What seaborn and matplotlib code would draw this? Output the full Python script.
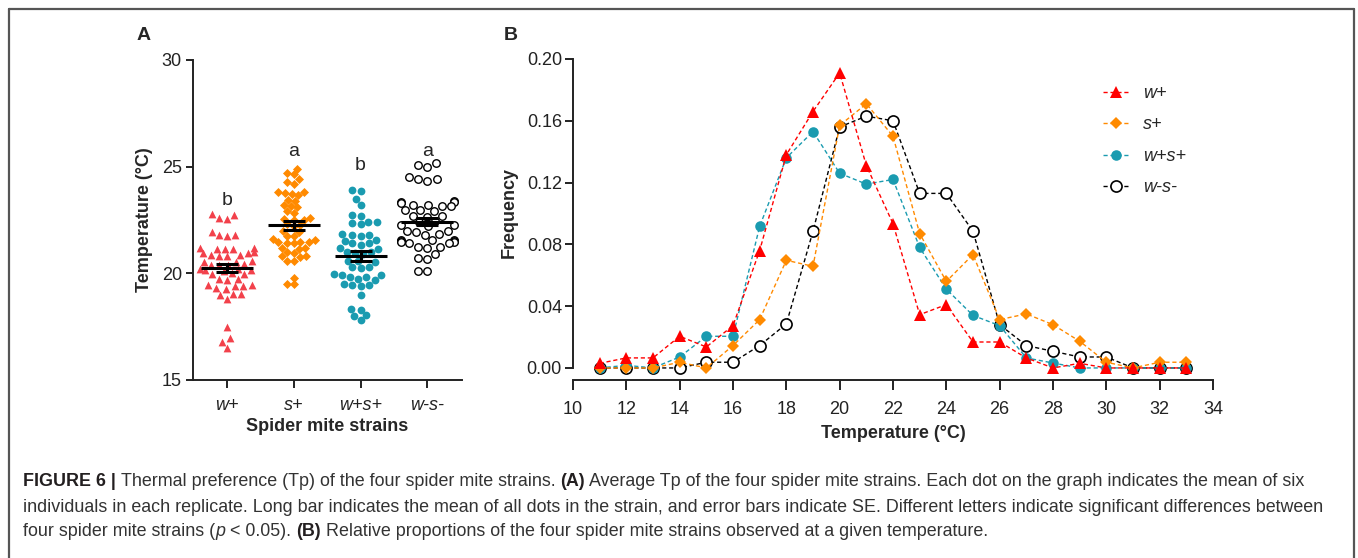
import numpy as np
import pandas as pd
import matplotlib
matplotlib.use('Agg')
import matplotlib.pyplot as plt
from matplotlib.lines import Line2D
import seaborn as sns

# ---- data ----
strains = ['w+', 's+', 'w+s+', 'w-s-']

tp_wplus = [22.8, 22.75, 22.6, 22.55, 21.95, 21.8, 21.8, 21.75,
            21.2, 21.2, 21.15, 21.15, 21.15, 21.0, 20.95, 20.95,
            20.85, 20.85, 20.8, 20.8, 20.6, 20.55, 20.55,
            20.45, 20.4, 20.4, 20.4, 20.2, 20.2, 20.15, 20.15, 20.1,
            20.0, 19.95, 19.95, 19.75, 19.75, 19.7,
            19.45, 19.45, 19.4, 19.4, 19.3, 19.25,
            19.05, 19.05, 19.0, 18.8, 17.5, 16.95, 16.8, 16.5]
tp_splus = [24.9, 24.7, 24.65, 24.4, 24.3, 24.2,
            23.8, 23.8, 23.75, 23.7, 23.65, 23.45, 23.4,
            23.2, 23.15, 23.1, 22.9, 22.85,
            22.6, 22.55, 22.5, 22.5, 22.3, 22.25, 22.2,
            22.0, 21.95, 21.75, 21.75, 21.6, 21.55,
            21.45, 21.45, 21.45, 21.4, 21.4, 21.2, 21.2, 21.15,
            21.0, 20.95, 20.8, 20.8, 20.75, 20.6, 20.6,
            19.8, 19.5, 19.5]
tp_wsplus = [23.9, 23.85, 23.5, 23.2, 22.75, 22.7,
             22.4, 22.4, 22.35, 22.3, 21.85, 21.8, 21.8, 21.75,
             21.55, 21.5, 21.4, 21.4, 21.35, 21.2, 21.15,
             21.0, 21.0, 20.95, 20.9, 20.6, 20.6, 20.55,
             20.3, 20.3, 20.25, 19.95, 19.9, 19.9, 19.85, 19.85,
             19.75, 19.7, 19.5, 19.45, 19.45, 19.4, 19.0,
             18.35, 18.3, 18.05, 18.0, 17.8]
tp_wsminus = [25.15, 25.1, 25.0, 24.5, 24.4, 24.4, 24.35,
              23.4, 23.35, 23.35, 23.3, 23.2, 23.2, 23.15, 23.15,
              22.95, 22.95, 22.9, 22.7, 22.7, 22.65, 22.45, 22.4,
              22.25, 22.25, 22.2, 22.0, 22.0, 21.95, 21.85, 21.8,
              21.55, 21.55, 21.55, 21.5, 21.5, 21.45, 21.45, 21.4, 21.4,
              21.25, 21.25, 21.2, 20.9, 20.7, 20.65, 20.1, 20.1]
sig_letters = ['b', 'a', 'b', 'a']

temps = list(range(11, 34))
freq_wplus = [0.003, 0.0065, 0.0065, 0.0205, 0.0136, 0.0274, 0.076, 0.138,
              0.166, 0.191, 0.131, 0.0934, 0.0345, 0.041, 0.0168, 0.0168,
              0.0065, 0.0, 0.003, 0.0, 0.0, 0.0, 0.0]
freq_splus = [0.0, 0.0, 0.0, 0.0037, 0.0, 0.0145, 0.0313, 0.0697,
              0.0658, 0.157, 0.171, 0.150, 0.087, 0.056, 0.0734, 0.0313,
              0.035, 0.028, 0.0173, 0.0037, 0.0, 0.0037, 0.0037]
freq_wsplus = [0.0, 0.0017, 0.0, 0.0071, 0.0205, 0.0205, 0.0917, 0.136,
               0.153, 0.126, 0.119, 0.122, 0.078, 0.051, 0.034, 0.0274,
               0.0065, 0.0032, 0.0, 0.0, 0.0, 0.0, 0.0]
freq_wsminus = [0.0, 0.0, 0.0, 0.0, 0.0037, 0.0037, 0.0145, 0.0285,
                0.0885, 0.156, 0.163, 0.160, 0.113, 0.113, 0.0885, 0.028,
                0.0145, 0.0108, 0.0071, 0.0071, 0.0, 0.0, 0.0]

caption_lines = [
    [('FIGURE 6 | ', 'bold'),
     ('Thermal preference (Tp) of the four spider mite strains. ', 'normal'),
     ('(A)', 'bold'),
     (' Average Tp of the four spider mite strains. Each dot on the graph indicates the mean of six', 'normal')],
    [('individuals in each replicate. Long bar indicates the mean of all dots in the strain, and error bars '
      'indicate SE. Different letters indicate significant differences between', 'normal')],
    [('four spider mite strains (', 'normal'), ('p', 'italic'), (' < 0.05). ', 'normal'),
     ('(B)', 'bold'),
     (' Relative proportions of the four spider mite strains observed at a given temperature.', 'normal')],
]

# ---- style ----
sns.set_theme(style='ticks')
plt.rcParams['font.family'] = ['Liberation Sans', 'DejaVu Sans']
plt.rcParams['axes.linewidth'] = 1.4
plt.rcParams['axes.edgecolor'] = '#222222'
plt.rcParams['xtick.color'] = '#222222'
plt.rcParams['ytick.color'] = '#222222'
plt.rcParams['xtick.major.width'] = 1.4
plt.rcParams['ytick.major.width'] = 1.4

W, H = 1358, 558
fig = plt.figure(figsize=(W / 100, H / 100), dpi=100)
fig.patch.set_facecolor('white')

axA = fig.add_axes([193 / W, 1 - 380 / H, (462 - 193) / W, (380 - 60) / H])
axB = fig.add_axes([573 / W, 1 - 380 / H, (1213 - 573) / W, (380 - 59) / H])

# ---- panel A ----
df = pd.DataFrame({
    'strain': (['w+'] * len(tp_wplus) + ['s+'] * len(tp_splus)
               + ['w+s+'] * len(tp_wsplus) + ['w-s-'] * len(tp_wsminus)),
    'temp': tp_wplus + tp_splus + tp_wsplus + tp_wsminus,
})

swarm_style = {
    'w+': dict(marker='^', color='#f2414b', edgecolor='#f2414b', linewidth=0, size=5.6),
    's+': dict(marker='D', color='#ff8a00', edgecolor='#ff8a00', linewidth=0, size=4.6),
    'w+s+': dict(marker='o', color='#1a9bb0', edgecolor='#1a9bb0', linewidth=0, size=5.6),
    'w-s-': dict(marker='o', color='white', edgecolor='black', linewidth=1.0, size=5.4),
}
for s in strains:
    sns.swarmplot(data=df[df.strain == s], x='strain', y='temp', order=strains,
                  ax=axA, zorder=3, **swarm_style[s])

letter_y = [23.4, 25.7, 25.05, 25.7]
for i, s in enumerate(strains):
    v = df.loc[df.strain == s, 'temp']
    m = v.mean()
    se = v.std(ddof=1) / np.sqrt(len(v))
    axA.hlines(m, i - 0.39, i + 0.39, color='black', lw=2.2, zorder=5)
    axA.errorbar(i, m, yerr=se, color='black', capsize=8, capthick=2.2,
                 elinewidth=2.2, zorder=5)
    axA.text(i, letter_y[i], sig_letters[i], ha='center', va='center', fontsize=14)

axA.set_ylim(15, 30)
axA.set_yticks([15, 20, 25, 30])
axA.set_xlim(-0.51, 3.52)
axA.set_xticks(range(4))
axA.set_xticklabels(strains, fontstyle='italic')
axA.tick_params(labelsize=13, length=5, pad=3)
axA.tick_params(axis='x', length=6, pad=6)
axA.set_xlabel('Spider mite strains', fontsize=13, fontweight='bold')
axA.set_ylabel('Temperature (°C)', fontsize=13, fontweight='bold')
axA.xaxis.set_label_coords(0.5, -0.12)
axA.yaxis.set_label_coords(-0.15, 0.5)
sns.despine(ax=axA)

# ---- panel B ----
series = [
    ('w-s-', freq_wsminus, dict(color='black', marker='o', markersize=8,
                                markerfacecolor='white', markeredgecolor='black', markeredgewidth=1.2), 2),
    ('w+s+', freq_wsplus, dict(color='#1a9bb0', marker='o', markersize=7.6,
                               markerfacecolor='#1a9bb0', markeredgecolor='#1a9bb0', markeredgewidth=0), 3),
    ('s+', freq_splus, dict(color='#ff8a00', marker='D', markersize=6,
                            markerfacecolor='#ff8a00', markeredgecolor='#ff8a00', markeredgewidth=0), 4),
    ('w+', freq_wplus, dict(color='#ff0000', marker='^', markersize=8,
                            markerfacecolor='#ff0000', markeredgecolor='#ff0000', markeredgewidth=0), 5),
]
for lab, vals, kw, z in series:
    sns.lineplot(x=temps, y=vals, ax=axB, label=lab, linestyle=(0, (3, 2)),
                 linewidth=1.0, zorder=z, **kw)

axB.set_xlim(10, 34)
axB.set_xticks(range(10, 35, 2))
axB.set_ylim(-0.0078, 0.2)
axB.set_yticks([0.0, 0.04, 0.08, 0.12, 0.16, 0.20])
axB.set_yticklabels(['0.00', '0.04', '0.08', '0.12', '0.16', '0.20'])
axB.spines['left'].set_bounds(0, 0.2)
axB.tick_params(labelsize=13, length=6, pad=2)
axB.tick_params(axis='x', length=7, pad=8)
axB.set_xlabel('Temperature (°C)', fontsize=13, fontweight='bold')
axB.set_ylabel('Frequency', fontsize=13, fontweight='bold')
axB.xaxis.set_label_coords(0.5, -0.14)
axB.yaxis.set_label_coords(-0.086, 0.523)
sns.despine(ax=axB)

handles, labels = axB.get_legend_handles_labels()
order = [labels.index(s) for s in strains]
axB.legend([handles[i] for i in order], [labels[i] for i in order],
           loc='upper left', bbox_to_anchor=(1103 / W, 1 - 85 / H),
           bbox_transform=fig.transFigure, frameon=False,
           prop={'style': 'italic', 'size': 13}, handlelength=1.4,
           handletextpad=0.8, labelspacing=0.8, borderpad=0, borderaxespad=0)

# panel letters
fig.text(144 / W, 1 - 36 / H, 'A', ha='center', va='center', fontsize=14, fontweight='bold')
fig.text(511 / W, 1 - 36 / H, 'B', ha='center', va='center', fontsize=14, fontweight='bold')

# frame around figure
for xs, ys in [((8.5 / W, 1354 / W), (1 - 8.5 / H, 1 - 8.5 / H)),
               ((8.5 / W, 8.5 / W), (0, 1 - 8.5 / H)),
               ((1354 / W, 1354 / W), (0, 1 - 8.5 / H))]:
    fig.add_artist(Line2D(xs, ys, transform=fig.transFigure, color='#555555', lw=1.6))

# ---- caption ----
renderer = fig.canvas.get_renderer()
probe = fig.text(0, 0, caption_lines[1][0][0], fontsize=12)
cap_size = 12 * 1300 / probe.get_window_extent(renderer).width
probe.remove()

line_y = [482, 507, 531]
for runs, yp in zip(caption_lines, line_y):
    x = 23 / W
    for txt, st in runs:
        kw = dict(fontsize=cap_size, va='center', ha='left')
        if st == 'bold':
            kw.update(fontweight='bold', color='#231f20')
        elif st == 'italic':
            kw.update(fontstyle='italic', color='#333333')
        else:
            kw.update(color='#333333')
        t = fig.text(x, 1 - yp / H, txt, **kw)
        x += t.get_window_extent(renderer).width / W

fig.savefig('out.png', dpi=100)
